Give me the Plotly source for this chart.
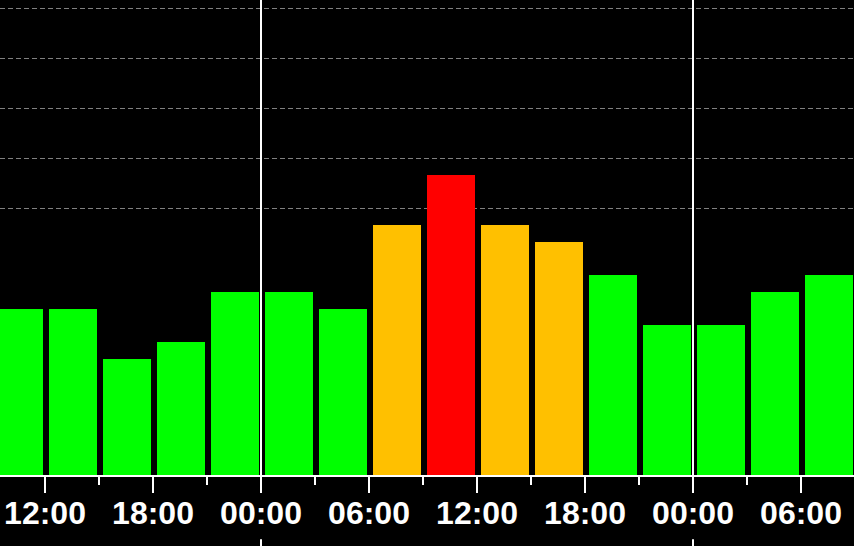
import plotly.graph_objects as go
import pandas as pd

# Kp index, 3-hour intervals (start times)
start_times = pd.date_range("2024-01-01 09:00", periods=16, freq="3h")
kp_values = [3.33, 3.33, 2.33, 2.67, 3.67, 3.67, 3.33, 5.0, 6.0, 5.0, 4.67, 4.0, 3.0, 3.0, 3.67, 4.0]
day_boundaries = ["2024-01-02 00:00", "2024-01-03 00:00"]

GREEN, YELLOW, RED = "#00ff00", "#ffc000", "#ff0000"

def kp_color(v):
    if v < 4.5:
        return GREEN
    if v < 5.5:
        return YELLOW
    return RED

centers = start_times + pd.Timedelta(hours=1.55)
colors = [kp_color(v) for v in kp_values]

fig = go.Figure()
fig.add_trace(go.Bar(
    x=centers, y=kp_values,
    width=2.7 * 3600 * 1000,
    marker=dict(color=colors, line=dict(width=0)),
    hoverinfo="skip",
))

shapes = []
for d in day_boundaries:
    shapes.append(dict(type="line", xref="x", yref="paper", x0=d, x1=d, y0=0, y1=1,
                       line=dict(color="white", width=2), layer="above"))
    shapes.append(dict(type="line", xref="x", yref="paper", x0=d, x1=d, y0=-0.135, y1=-0.3,
                       line=dict(color="white", width=2), layer="above"))

fig.update_layout(
    width=854, height=546,
    margin=dict(l=0, r=0, t=0, b=71),
    paper_bgcolor="black", plot_bgcolor="black",
    showlegend=False,
    bargap=0,
    shapes=shapes,
    xaxis=dict(
        type="date",
        range=["2024-01-01 09:30", "2024-01-03 08:56:40"],
        tickmode="linear", tick0="2024-01-01 00:00", dtick=6 * 3600 * 1000,
        tickformat="%H:%M",
        ticks="outside", ticklen=16, tickwidth=2, tickcolor="white",
        minor=dict(ticks="outside", ticklen=8, tickwidth=2, tickcolor="white",
                   dtick=3 * 3600 * 1000, tick0="2024-01-01 00:00", showgrid=False),
        showgrid=False, zeroline=False,
        showline=True, linecolor="white", linewidth=2,
        tickfont=dict(family="Liberation Sans, Arial", size=32, color="white", weight="bold"),
        ticklabelstandoff=-7,
    ),
    yaxis=dict(
        range=[0, 9.5],
        tickmode="array", tickvals=[5.33, 6.33, 7.33, 8.33, 9.33],
        showticklabels=False,
        showgrid=True, gridcolor="#808080", gridwidth=1, griddash="5px,3px",
        zeroline=False, showline=False,
    ),
)

fig.write_html(
    "out.html",
    config={"displayModeBar": False, "staticPlot": True},
    post_script="document.body.style.margin='0';document.body.style.padding='0';document.body.style.overflow='hidden';",
)
